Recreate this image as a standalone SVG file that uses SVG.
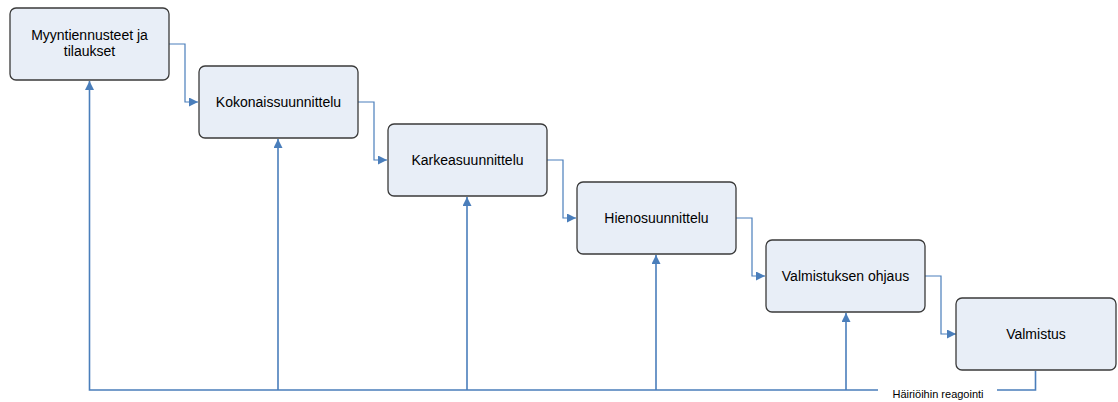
<svg xmlns="http://www.w3.org/2000/svg" width="1118" height="402" viewBox="0 0 1118 402">
  <style>
    .box { fill: #E8EEF7; stroke: #3A3A3A; stroke-width: 1.3; }
    .lbl { font-family: "Liberation Sans", Arial, sans-serif; font-size: 14px; fill: #000; text-anchor: middle; }
    .small { font-family: "Liberation Sans", Arial, sans-serif; font-size: 11px; fill: #000; text-anchor: middle; }
    .flow { fill: none; stroke: #4A7EBB; stroke-width: 1.2; }
    .fb { fill: none; stroke: #4A7EBB; stroke-width: 1.6; }
  </style>
  <defs>
    <marker id="arrow" viewBox="0 0 10 10" refX="10" refY="5" markerWidth="9" markerHeight="9" markerUnits="userSpaceOnUse" orient="auto">
      <path d="M0,0 L10,5 L0,10 Z" fill="#4A7EBB"/>
    </marker>
  </defs>
  <rect width="1118" height="402" fill="#fff"/>

  <!-- connectors -->
  <g id="connectors">
    <!-- planning chain -->
    <path class="flow" d="M169,44 H185 V102 H198" marker-end="url(#arrow)"/>
    <path class="flow" d="M358,102 H374 V160 H387" marker-end="url(#arrow)"/>
    <path class="flow" d="M547,160 H563 V218 H576" marker-end="url(#arrow)"/>
    <path class="flow" d="M736,218 H752 V276 H765" marker-end="url(#arrow)"/>
    <path class="flow" d="M925,276 H941 V334 H956" marker-end="url(#arrow)"/>
    <!-- disturbance feedback -->
    <path class="fb" d="M878,390 H89.5 V81" marker-end="url(#arrow)"/>
    <path class="fb" d="M278,390 V139" marker-end="url(#arrow)"/>
    <path class="fb" d="M467,390 V197" marker-end="url(#arrow)"/>
    <path class="fb" d="M656,390 V255" marker-end="url(#arrow)"/>
    <path class="fb" d="M846,390 V313" marker-end="url(#arrow)"/>
    <path class="fb" d="M997,390 H1035.5 V371"/>
    <text class="small" x="938" y="398">Häiriöihin reagointi</text>
  </g>

  <g id="node1">
    <rect class="box" x="10" y="8" width="159" height="72" rx="6"/>
    <text class="lbl" x="89.5" y="40">Myyntiennusteet ja</text>
    <text class="lbl" x="89.5" y="56">tilaukset</text>
  </g>
  <g id="node2">
    <rect class="box" x="199" y="66" width="159" height="72" rx="6"/>
    <text class="lbl" x="278.5" y="107">Kokonaissuunnittelu</text>
  </g>
  <g id="node3">
    <rect class="box" x="388" y="124" width="159" height="72" rx="6"/>
    <text class="lbl" x="467.5" y="165">Karkeasuunnittelu</text>
  </g>
  <g id="node4">
    <rect class="box" x="577" y="182" width="159" height="72" rx="6"/>
    <text class="lbl" x="656.5" y="223">Hienosuunnittelu</text>
  </g>
  <g id="node5">
    <rect class="box" x="766" y="240" width="159" height="72" rx="6"/>
    <text class="lbl" x="845.5" y="281">Valmistuksen ohjaus</text>
  </g>
  <g id="node6">
    <rect class="box" x="956" y="298" width="160" height="72" rx="6"/>
    <text class="lbl" x="1036" y="339">Valmistus</text>
  </g>
</svg>
